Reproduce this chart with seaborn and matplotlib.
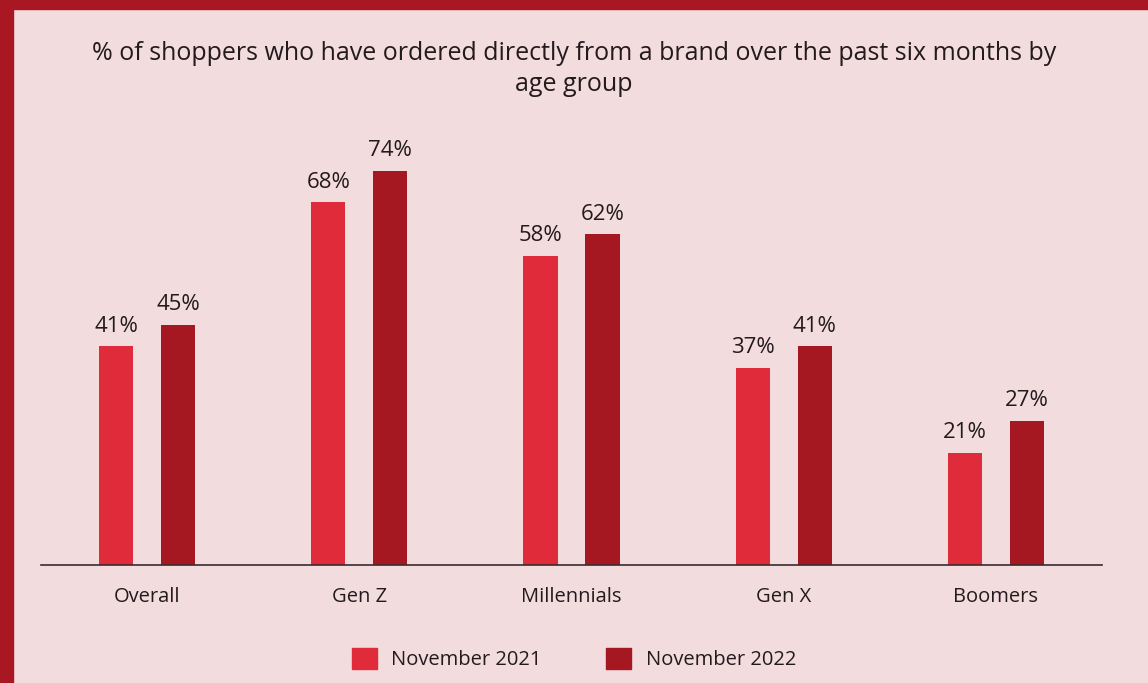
import matplotlib
matplotlib.use("Agg")
import matplotlib.pyplot as plt
import matplotlib.patches as mpatches
import seaborn as sns
import pandas as pd

groups = ["Overall", "Gen Z", "Millennials", "Gen X", "Boomers"]
nov_2021 = [41, 68, 58, 37, 21]
nov_2022 = [45, 74, 62, 41, 27]
periods = ["November 2021", "November 2022"]

df = pd.DataFrame({
    "group": groups * 2,
    "period": [periods[0]] * len(groups) + [periods[1]] * len(groups),
    "value": nov_2021 + nov_2022,
})

bg = "#F2DCDE"
border = "#A91822"
c_light = "#E02B3A"
c_dark = "#A51822"
txt = "#231A1D"

sns.set_theme(style="white")
plt.rcParams["font.family"] = ["Open Sans", "DejaVu Sans"]

fig = plt.figure(figsize=(11.48, 6.83), dpi=100, facecolor=bg)
ax = fig.add_axes([41 / 1148, 118 / 683, 1061 / 1148, 435 / 683])
ax.set_facecolor(bg)

sns.barplot(
    data=df, x="group", y="value", hue="period",
    palette=[c_light, c_dark], width=0.585, gap=0.45,
    saturation=1, legend=False, linewidth=0, ax=ax,
)

for cont in ax.containers:
    ax.bar_label(cont, labels=[f"{v:.0f}%" for v in cont.datavalues],
                 padding=7, fontsize=16, color=txt)

ax.set_xlim(-0.5, len(groups) - 0.5)
ax.set_ylim(0, 81.6)
ax.set_xlabel("")
ax.set_ylabel("")
ax.set_yticks([])
ax.tick_params(axis="x", length=0, pad=16, labelsize=14.5, labelcolor=txt)
for s in ["top", "right", "left"]:
    ax.spines[s].set_visible(False)
ax.spines["bottom"].set_color("#3A2A2E")
ax.spines["bottom"].set_linewidth(1.2)

fig.text(0.5, 1 - 69 / 683,
         "% of shoppers who have ordered directly from a brand over the past six months by\nage group",
         ha="center", va="center", fontsize=18, color=txt, linespacing=1.32)

handles = [mpatches.Patch(color=c_light, label=periods[0]),
           mpatches.Patch(color=c_dark, label=periods[1])]
fig.legend(handles=handles, loc="center", bbox_to_anchor=(0.5, 1 - 659 / 683),
           ncol=2, frameon=False, fontsize=14.5, labelcolor=txt,
           handlelength=1.25, handleheight=1.25, handletextpad=0.7, columnspacing=3.2)

# border strips on left and top
fig.patches.append(mpatches.Rectangle((0, 0), 13 / 1148, 1, transform=fig.transFigure,
                                      color=border, zorder=10))
fig.patches.append(mpatches.Rectangle((0, 1 - 9 / 683), 1, 9 / 683, transform=fig.transFigure,
                                      color=border, zorder=10))

fig.savefig("out.png", dpi=100, facecolor=bg)
